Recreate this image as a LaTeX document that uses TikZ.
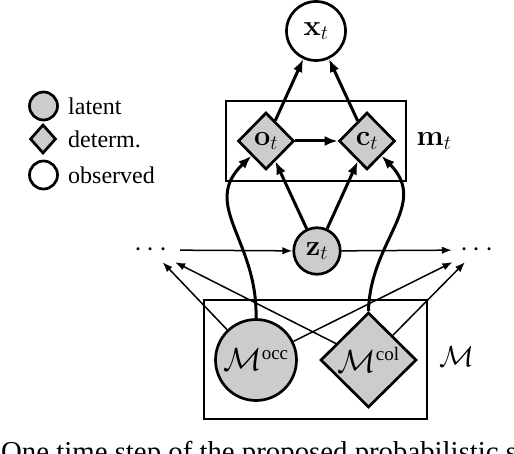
\RequirePackage{fix-cm}
\documentclass[tikz,border=0pt]{standalone}
\usepackage[no-math]{fontspec}
\setmainfont{Liberation Serif}
\usetikzlibrary{shapes.geometric,arrows.meta}
\definecolor{nodegray}{RGB}{204,204,204}
\newcommand{\supsm}[1]{\mbox{\fontsize{19bp}{22bp}\selectfont #1}}
\begin{document}
\begin{tikzpicture}[x=1bp,y=-1bp,
  lat/.style={circle,draw,line width=2.7bp,fill=nodegray,inner sep=0pt},
  obs/.style={circle,draw,line width=2.7bp,fill=white,inner sep=0pt},
  det/.style={diamond,draw,line width=2.7bp,fill=nodegray,inner sep=0pt},
  thickarr/.style={line width=3bp,-{Latex[length=13bp,width=10bp]}},
  thinarr/.style={line width=1.5bp,-{Latex[length=10bp,width=7.5bp]}},
  plate/.style={draw,line width=1.6bp},
  mtxt/.style={font=\fontsize{29bp}{34bp}\selectfont},
  bigtxt/.style={font=\fontsize{32bp}{38bp}\selectfont},
  legtxt/.style={font=\fontsize{24bp}{28bp}\selectfont,anchor=west,inner sep=0pt}]
\useasboundingbox (0,0) rectangle (514,454);

% legend
\node[lat,minimum size=28bp] (leglat) at (43.5,106) {};
\node[det,minimum width=26bp,minimum height=29bp] (legdet) at (43,139) {};
\node[obs,minimum size=28bp] (legobs) at (43.5,175) {};
\node[legtxt] (tlat) at (68,106) {latent};
\node[legtxt] (tdet) at (68,139) {determ.};
\node[legtxt] (tobs) at (68,175) {observed};

% plates
\draw[plate] (226,101) rectangle (406,181);
\draw[plate] (204,300) rectangle (427,419);
\node[mtxt] (mt) at (434,141) {$\mathbf{m}_t$};
\node[mtxt] (Mlab) at (457,357) {$\mathcal{M}$};

% nodes
\node[obs,mtxt,minimum size=59bp] (x) at (316,31) {$\mathbf{x}_t$};
\node[det,mtxt,minimum width=56bp,minimum height=57bp] (o) at (266,141) {$\mathbf{o}_t$};
\node[det,mtxt,minimum width=56bp,minimum height=57bp] (c) at (367,141) {$\mathbf{c}_t$};
\node[lat,mtxt,minimum size=46.5bp] (z) at (317,251) {$\mathbf{z}_t$};
\node[lat,bigtxt,minimum size=81bp] (Mocc) at (256,360) {$\mathcal{M}^{\supsm{occ}}$};
\node[det,bigtxt,minimum width=96bp,minimum height=95bp] (Mcol) at (368.5,360) {$\mathcal{M}^{\supsm{col}}$};
\node[mtxt,minimum width=58bp,minimum height=24bp,inner sep=0pt] (ld) at (151,250) {$\cdots$};
\node[mtxt,minimum width=50bp,minimum height=24bp,inner sep=0pt] (rd) at (477,250) {$\cdots$};

% edges
\draw[thickarr] (o) -- (x);
\draw[thickarr] (c) -- (x);
\draw[thickarr] (o) -- (c);
\draw[thickarr] (z) -- (o);
\draw[thickarr] (z) -- (c);
\draw[thickarr] (Mocc.north) .. controls (258,240) and (200,205) .. (o.south west);
\draw[thickarr] (Mcol.north) .. controls (370,240) and (430,205) .. (c.south east);
\draw[thinarr] (ld) -- (z);
\draw[thinarr] (z) -- (rd);
\draw[thinarr] (Mocc) -- (ld);
\draw[thinarr] (Mocc) -- (rd);
\draw[thinarr] (Mcol) -- (ld);
\draw[thinarr] (Mcol) -- (rd);

% caption (cut off by the picture edge)
\node[anchor=base west,inner sep=0pt,font=\fontsize{28.8bp}{34bp}\selectfont] (cap) at (1,461) {One time step of the proposed probabilistic sensor};
\end{tikzpicture}
\end{document}
